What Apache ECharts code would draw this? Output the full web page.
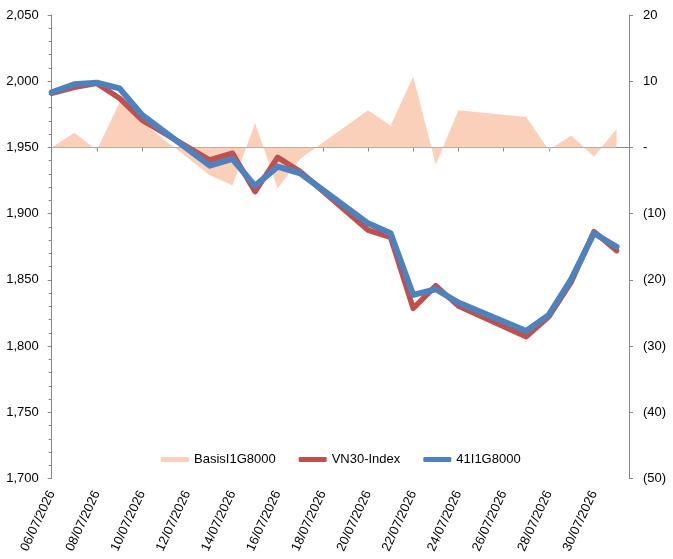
<!DOCTYPE html>
<html>
<head>
<meta charset="utf-8">
<script src="https://cdn.jsdelivr.net/npm/echarts@6/dist/echarts.min.js"></script>
<style>html,body{margin:0;padding:0;background:#fff;}#c{width:673px;height:559px;}</style>
</head>
<body>
<div id="c"></div>
<script>
var dates = ['06/07/2026','07/07/2026','08/07/2026','09/07/2026','10/07/2026','13/07/2026','14/07/2026','15/07/2026','16/07/2026','17/07/2026','20/07/2026','21/07/2026','22/07/2026','23/07/2026','24/07/2026','27/07/2026','28/07/2026','29/07/2026','30/07/2026','31/07/2026'];
var basis = [0, 2.2, -0.4, 6.8, 3.8, -4.2, -5.7, 3.7, -6.2, -1.7, 5.6, 3.3, 10.7, -2.6, 5.6, 4.6, -0.4, 1.8, -1.4, 2.8];
var vn30 = [1990.9, 1995.4, 1998.4, 1987.1, 1970.7, 1940.5, 1945.6, 1916.6, 1942.5, 1931.7, 1887.6, 1882.1, 1828.5, 1845.6, 1830.3, 1807.1, 1822.2, 1848.6, 1886.4, 1872.0];
var fut = [1991.6, 1997.7, 1998.9, 1994.6, 1974.5, 1936.2, 1941.3, 1921.0, 1935.5, 1930.5, 1892.7, 1885.2, 1838.6, 1842.9, 1832.8, 1811.4, 1823.5, 1850.7, 1885.2, 1875.0];
var seriesNames = ['BasisI1G8000', 'VN30-Index', '41I1G8000'];

var DAY = 86400000;
var base = Date.UTC(2026, 6, 6);
function toOffset(s) {
  var p = s.split('/');
  return (Date.UTC(+p[2], +p[1] - 1, +p[0]) - base) / DAY;
}
function pad(n) { return (n < 10 ? '0' : '') + n; }
function fromOffset(v) {
  var d = new Date(base + v * DAY);
  return pad(d.getUTCDate()) + '/' + pad(d.getUTCMonth() + 1) + '/' + d.getUTCFullYear();
}
function pairs(arr) { return dates.map(function (s, i) { return [toOffset(s), arr[i]]; }); }

var FONT = 'Liberation Sans';
var axisCol = '#868686';
var chart = echarts.init(document.getElementById('c'));
chart.setOption({
  animation: false,
  textStyle: { fontFamily: FONT },
  grid: { left: 51.7, right: 44, top: 15, bottom: 80.5, containLabel: false },
  legend: {
    left: 161, top: 453, padding: 0, itemGap: 23, itemWidth: 28, itemHeight: 5,
    textStyle: { fontFamily: FONT, fontSize: 13, color: '#000' },
    data: [
      { name: seriesNames[0], icon: 'rect' },
      { name: seriesNames[1], icon: 'roundRect' },
      { name: seriesNames[2], icon: 'roundRect' }
    ]
  },
  xAxis: {
    type: 'value', min: 0, max: 25.55, interval: 2,
    axisLine: { lineStyle: { color: axisCol, width: 1 } },
    axisTick: { show: true, length: 4, lineStyle: { color: axisCol } },
    splitLine: { show: false },
    axisLabel: {
      rotate: 65, margin: 13, fontSize: 13, color: '#000', fontFamily: FONT,
      showMaxLabel: false,
      formatter: function (v) {
        if (Math.abs(v - Math.round(v)) > 1e-6 || Math.round(v) % 2 !== 0) return '';
        return fromOffset(Math.round(v));
      }
    }
  },
  yAxis: [
    {
      type: 'value', min: 1700, max: 2050, interval: 50, position: 'left',
      axisLine: { show: true, lineStyle: { color: axisCol } },
      axisTick: { show: true, length: 4, lineStyle: { color: axisCol } },
      minorTick: { show: true, splitNumber: 5, length: 3, lineStyle: { color: axisCol } },
      splitLine: { show: false },
      axisLabel: {
        margin: 13, fontSize: 13, color: '#000', fontFamily: FONT,
        formatter: function (v) { return v.toLocaleString('en-US'); }
      }
    },
    {
      type: 'value', min: -50, max: 20, interval: 10, position: 'right',
      axisLine: { show: true, lineStyle: { color: axisCol } },
      axisTick: { show: true, length: 4, lineStyle: { color: axisCol } },
      splitLine: { show: false },
      axisLabel: {
        margin: 14, fontSize: 13, color: '#000', fontFamily: FONT,
        formatter: function (v) {
          if (v === 0) return '-';
          if (v < 0) return '(' + (-v) + ')';
          return String(v);
        }
      }
    }
  ],
  series: [
    {
      name: seriesNames[0], type: 'line', yAxisIndex: 1, data: pairs(basis),
      showSymbol: false, symbol: 'none',
      lineStyle: { width: 0, color: '#FBD0BA' },
      itemStyle: { color: '#FBD0BA' },
      areaStyle: { color: '#FBD0BA', opacity: 1, origin: 'auto' },
      z: 1
    },
    {
      name: seriesNames[1], type: 'line', yAxisIndex: 0, data: pairs(vn30),
      showSymbol: false, symbol: 'none',
      lineStyle: { width: 5.5, color: '#C0504D', join: 'round', cap: 'round' },
      itemStyle: { color: '#C0504D' },
      z: 2
    },
    {
      name: seriesNames[2], type: 'line', yAxisIndex: 0, data: pairs(fut),
      showSymbol: false, symbol: 'none',
      lineStyle: { width: 6, color: '#4F81BD', join: 'round', cap: 'round' },
      itemStyle: { color: '#4F81BD' },
      z: 3
    }
  ]
});
</script>
</body>
</html>
